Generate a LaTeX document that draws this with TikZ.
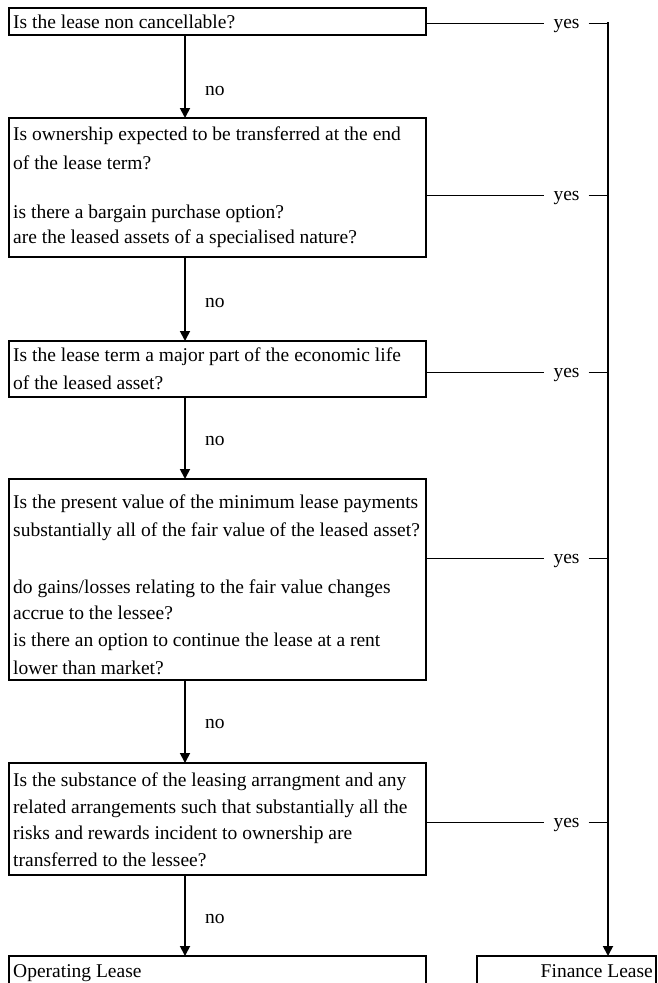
\documentclass[tikz,border=0pt]{standalone}
\usepackage{fontspec}
\setmainfont{Liberation Serif}
\usetikzlibrary{arrows.meta}
\newcommand\lfsz{\fontsize{19.5pt}{27.5pt}\selectfont}
\begin{document}
\begin{tikzpicture}[x=1pt,y=-1pt,
  box/.style={draw,line width=1.8pt,inner sep=0pt,outer sep=0pt,anchor=north west},
  txt/.style={anchor=base west,inner sep=0pt,font=\lfsz},
  nolab/.style={anchor=base west,inner sep=0pt,font=\lfsz},
  yeslab/.style={anchor=base,inner xsep=9pt,inner ysep=0pt,font=\lfsz},
  arr/.style={line width=1.8pt,-{Triangle[length=10pt,width=10pt]}},
  thinline/.style={line width=1pt},
  thickline/.style={line width=1.8pt}]
\useasboundingbox (0,0) rectangle (658,983);
\clip (0,0) rectangle (658,983);
% boxes
\node[box,minimum width=417pt,minimum height=27pt] (b1) at (9,8) {};
\node[box,minimum width=417pt,minimum height=139pt] (b2) at (9,118) {};
\node[box,minimum width=417pt,minimum height=56pt] (b3) at (9,341) {};
\node[box,minimum width=417pt,minimum height=201pt] (b4) at (9,479) {};
\node[box,minimum width=417pt,minimum height=112pt] (b5) at (9,763) {};
\node[box,minimum width=417pt,minimum height=60pt] (b6) at (9,956) {};
\node[box,minimum width=179pt,minimum height=60pt] (b7) at (477,956) {};
% texts
\node[txt] (t1) at (13,28) {Is the lease non cancellable?};
\node[txt] (t21) at (13,140) {Is ownership expected to be transferred at the end};
\node[txt] (t22) at (13,169) {of the lease term?};
\node[txt] (t23) at (13,218) {is there a bargain purchase option?};
\node[txt] (t24) at (13,243) {are the leased assets of a specialised nature?};
\node[txt] (t31) at (13,361) {Is the lease term a major part of the economic life};
\node[txt] (t32) at (13,389) {of the leased asset?};
\node[txt] (t41) at (13,508) {Is the present value of the minimum lease payments};
\node[txt] (t42) at (13,536) {substantially all of the fair value of the leased asset?};
\node[txt] (t43) at (13,593) {do gains/losses relating to the fair value changes};
\node[txt] (t44) at (13,619) {accrue to the lessee?};
\node[txt] (t45) at (13,646) {is there an option to continue the lease at a rent};
\node[txt] (t46) at (13,674) {lower than market?};
\node[txt] (t51) at (13,786) {Is the substance of the leasing arrangment and any};
\node[txt] (t52) at (13,813) {related arrangements such that substantially all the};
\node[txt] (t53) at (13,839) {risks and rewards incident to ownership are};
\node[txt] (t54) at (13,866) {transferred to the lessee?};
\node[txt] (t6) at (13,977) {Operating Lease};
\node[txt,anchor=base east] (t7) at (653,977) {Finance Lease};
% no arrows
\draw[arr] ([xshift=176pt]b1.south west) -- ([xshift=176pt]b2.north west);
\draw[arr] ([xshift=176pt]b2.south west) -- ([xshift=176pt]b3.north west);
\draw[arr] ([xshift=176pt]b3.south west) -- ([xshift=176pt]b4.north west);
\draw[arr] ([xshift=176pt]b4.south west) -- ([xshift=176pt]b5.north west);
\draw[arr] ([xshift=176pt]b5.south west) -- ([xshift=176pt]b6.north west);
\node[nolab] (n1) at (205,95) {no};
\node[nolab] (n2) at (205,307) {no};
\node[nolab] (n3) at (205,445) {no};
\node[nolab] (n4) at (205,728) {no};
\node[nolab] (n5) at (205,923) {no};
% yes lines
\coordinate (R0) at (608,23);
\coordinate (R1) at (608,195);
\coordinate (R2) at (608,372);
\coordinate (R3) at (608,558);
\coordinate (R4) at (608,822);
\node[yeslab] (y0) at (566.5,28) {yes};
\node[yeslab] (y1) at (566.5,200) {yes};
\node[yeslab] (y2) at (566.5,377) {yes};
\node[yeslab] (y3) at (566.5,563) {yes};
\node[yeslab] (y4) at (566.5,827) {yes};
\draw[thinline] (b1.east |- R0) -- (y0.west |- R0);
\draw[thinline] (y0.east |- R0) -- (R0);
\draw[thinline] (b2.east |- R1) -- (y1.west |- R1);
\draw[thinline] (y1.east |- R1) -- (R1);
\draw[thinline] (b3.east |- R2) -- (y2.west |- R2);
\draw[thinline] (y2.east |- R2) -- (R2);
\draw[thinline] (b4.east |- R3) -- (y3.west |- R3);
\draw[thinline] (y3.east |- R3) -- (R3);
\draw[thinline] (b5.east |- R4) -- (y4.west |- R4);
\draw[thinline] (y4.east |- R4) -- (R4);
\draw[arr] ([yshift=0.9pt]R0) -- (b7.north -| R0);
\end{tikzpicture}
\end{document}
